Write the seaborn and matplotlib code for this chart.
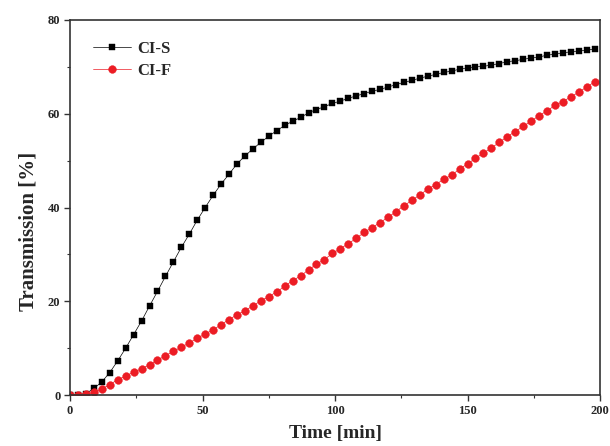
import numpy as np
import pandas as pd
import seaborn as sns
import matplotlib.pyplot as plt
from matplotlib.ticker import MultipleLocator

# sampling times [min], every 3 min
time_min = [0, 3, 6, 9, 12, 15, 18, 21, 24, 27, 30, 33, 36, 39, 42, 45, 48, 51, 54, 57,
            60, 63, 66, 69, 72, 75, 78, 81, 84, 87, 90, 93, 96, 99, 102, 105, 108, 111, 114, 117,
            120, 123, 126, 129, 132, 135, 138, 141, 144, 147, 150, 153, 156, 159, 162, 165, 168, 171, 174, 177,
            180, 183, 186, 189, 192, 195, 198]

# transmission [%]
ci_s = [0.0, 0.1, 0.3, 1.4, 2.8, 4.8, 7.3, 10.0, 12.9, 15.8, 19.0, 22.1, 25.3, 28.4, 31.5, 34.3, 37.3, 40.0, 42.6, 45.0,
        47.1, 49.3, 51.0, 52.5, 53.9, 55.2, 56.4, 57.5, 58.4, 59.2, 60.2, 60.9, 61.5, 62.2, 62.7, 63.3, 63.8, 64.3, 64.8, 65.2,
        65.7, 66.2, 66.7, 67.1, 67.6, 68.0, 68.4, 68.8, 69.1, 69.5, 69.8, 70.0, 70.1, 70.4, 70.7, 71.1, 71.3, 71.6, 71.9, 72.1,
        72.5, 72.7, 73.0, 73.2, 73.4, 73.6, 73.8]

ci_f = [0.0, 0.1, 0.2, 0.6, 1.3, 2.2, 3.3, 4.0, 4.9, 5.6, 6.5, 7.4, 8.4, 9.3, 10.2, 11.1, 12.1, 13.0, 13.9, 15.0,
        16.1, 17.1, 18.0, 19.0, 20.1, 21.0, 22.0, 23.2, 24.4, 25.4, 26.7, 27.9, 28.9, 30.2, 31.2, 32.3, 33.4, 34.7, 35.7, 36.8,
        37.9, 39.1, 40.4, 41.5, 42.7, 43.9, 44.9, 46.0, 46.9, 48.2, 49.3, 50.5, 51.6, 52.7, 53.9, 55.1, 56.2, 57.3, 58.4, 59.6,
        60.6, 61.8, 62.6, 63.6, 64.6, 65.7, 66.8]

df = pd.DataFrame({'time': time_min, 'CI-S': ci_s, 'CI-F': ci_f})

sns.set_style("ticks")
plt.rcParams['font.family'] = ['Liberation Serif', 'DejaVu Serif']
plt.rcParams['font.weight'] = 'bold'

fig = plt.figure(figsize=(6.1, 4.46), dpi=100)
ax = fig.add_axes([0.1148, 0.1143, 0.8688, 0.8409])

red = '#ec1c24'
sns.lineplot(data=df, x='time', y='CI-S', ax=ax, color='black', linewidth=0.5,
             marker='s', markersize=4.6, markeredgecolor='black', markeredgewidth=0.3, label='CI-S')
sns.lineplot(data=df, x='time', y='CI-F', ax=ax, color=red, linewidth=0.5,
             marker='o', markersize=5.6, markeredgecolor=red, markeredgewidth=0.3, label='CI-F')

ax.set_xlim(0, 200)
ax.set_ylim(0, 80)
ax.xaxis.set_major_locator(MultipleLocator(50))
ax.xaxis.set_minor_locator(MultipleLocator(25))
ax.yaxis.set_major_locator(MultipleLocator(20))
ax.yaxis.set_minor_locator(MultipleLocator(10))
ax.tick_params(which='major', length=4, width=1, color='#333333', labelsize=9, pad=3)
ax.tick_params(which='minor', length=2.5, width=0.8, color='#333333')
for lab in ax.get_xticklabels() + ax.get_yticklabels():
    lab.set_fontweight('bold')

for sp in ax.spines.values():
    sp.set_color('#333333')
    sp.set_linewidth(1.2)

ax.set_xlabel('Time [min]', fontsize=14, fontweight='bold', labelpad=6)
ax.set_ylabel('Transmission [%]', fontsize=15, fontweight='bold')
ax.yaxis.set_label_coords(-0.06, 0.435)

leg = ax.legend(loc='upper left', bbox_to_anchor=(0.015, 0.985), frameon=False,
                prop={'weight': 'bold', 'size': 12}, handlelength=2.3, handletextpad=0.35,
                labelspacing=0.4)

fig.savefig('out.png', dpi=100)
